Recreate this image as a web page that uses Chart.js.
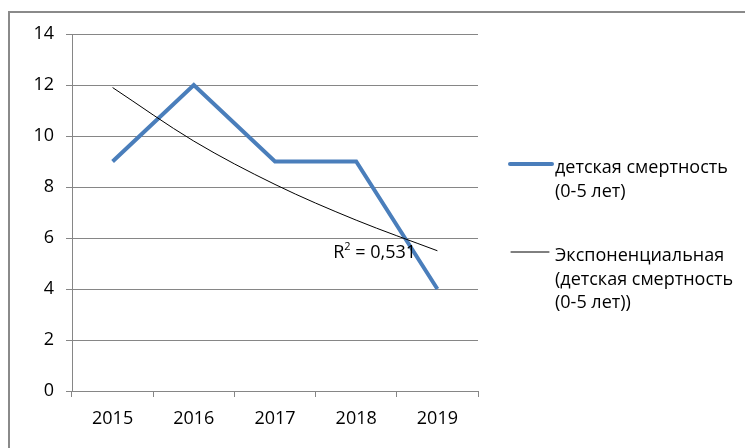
<!DOCTYPE html>
<html>
<head>
<meta charset="utf-8">
<script src="https://cdn.jsdelivr.net/npm/chart.js@4.4.1/dist/chart.umd.min.js"></script>
<style>
  html, body { margin: 0; padding: 0; background: #fff; }
  #wrap { width: 745px; height: 448px; position: relative; }
</style>
</head>
<body>
<div id="wrap"><canvas id="grafico" width="745" height="448"></canvas></div>
<script>
const years = ['2015', '2016', '2017', '2018', '2019'];
const mortality = [9, 12, 9, 9, 4];
const trend = [11.9, 9.8, 8.1, 6.7, 5.5];
const yTicks = { min: 0, max: 14, step: 2 };
const r2Text = '0,531';

const mortalityLabel = ['детская смертность', '(0-5 лет)'];
const trendLabel = ['Экспоненциальная', '(детская смертность', '(0-5 лет))'];

const FONT = '"Open Sans", "Noto Sans", sans-serif';
const GRID = '#868686';

// рамка слева и сверху
const frame = {
    id: 'frame',
    beforeDraw(chart) {
        const c = chart.ctx;
        c.save();
        c.strokeStyle = '#8a8a8a';
        c.lineWidth = 2;
        c.beginPath();
        c.moveTo(9, 448);
        c.lineTo(9, 12);
        c.lineTo(745, 12);
        c.stroke();
        c.restore();
    }
};

// легенда справа и подпись R²
const extras = {
    id: 'extras',
    afterDraw(chart) {
        const c = chart.ctx;
        c.save();
        c.font = '18px ' + FONT;
        c.fillStyle = '#000';
        c.textBaseline = 'middle';

        const blocks = [
            { lines: mortalityLabel, y: 168, color: '#4a7ebb', w: 4, x0: 510, x1: 552 },
            { lines: trendLabel, y: 256, color: '#000', w: 1, x0: 511, x1: 549 }
        ];
        blocks.forEach(b => {
            c.strokeStyle = b.color;
            c.lineWidth = b.w;
            c.lineCap = 'round';
            c.beginPath();
            c.moveTo(b.x0, b.y - 4);
            c.lineTo(b.x1, b.y - 4);
            c.stroke();
            b.lines.forEach((t, i) => c.fillText(t, 555, b.y + i * 23.5));
        });

        const xs = chart.scales.x, ys = chart.scales.y;
        const px = xs.getPixelForValue(3) - 23;
        const py = ys.getPixelForValue(5.4);
        c.font = '18px ' + FONT;
        c.fillText('R', px, py);
        let w = c.measureText('R').width;
        c.font = '11px ' + FONT;
        c.fillText('2', px + w, py - 6);
        let w2 = c.measureText('2').width;
        c.font = '18px ' + FONT;
        c.fillText(' = ' + r2Text, px + w + w2, py);
        c.restore();
    }
};

const ctx = document.getElementById('grafico').getContext('2d');
new Chart(ctx, {
    type: 'line',
    data: {
        labels: years,
        datasets: [
            {
                label: mortalityLabel.join(' '),
                data: mortality,
                borderColor: '#4a7ebb',
                borderWidth: 4,
                pointRadius: 0,
                fill: false,
                tension: 0,
                order: 1
            },
            {
                label: trendLabel.join(' '),
                data: trend,
                borderColor: '#000',
                borderWidth: 1,
                pointRadius: 0,
                fill: false,
                cubicInterpolationMode: 'monotone',
                order: 0
            }
        ]
    },
    options: {
        responsive: false,
        animation: false,
        layout: { padding: { left: 0, top: 34, right: 267, bottom: 0 } },
        plugins: { legend: { display: false }, tooltip: { enabled: false } },
        scales: {
            x: {
                offset: true,
                grid: { offset: true, drawOnChartArea: false, drawTicks: true, tickLength: 6, color: GRID },
                border: { color: GRID },
                ticks: { color: '#000', font: { family: FONT, size: 18 }, padding: 11, maxRotation: 0 },
                afterFit: s => { s.height = 57; }
            },
            y: {
                min: yTicks.min,
                max: yTicks.max,
                grid: { color: GRID, tickLength: 6 },
                border: { color: GRID },
                ticks: { stepSize: yTicks.step, color: '#000', font: { family: FONT, size: 18 }, padding: 12 },
                afterFit: s => { s.width = 72; }
            }
        }
    },
    plugins: [frame, extras]
});
</script>
</body>
</html>
